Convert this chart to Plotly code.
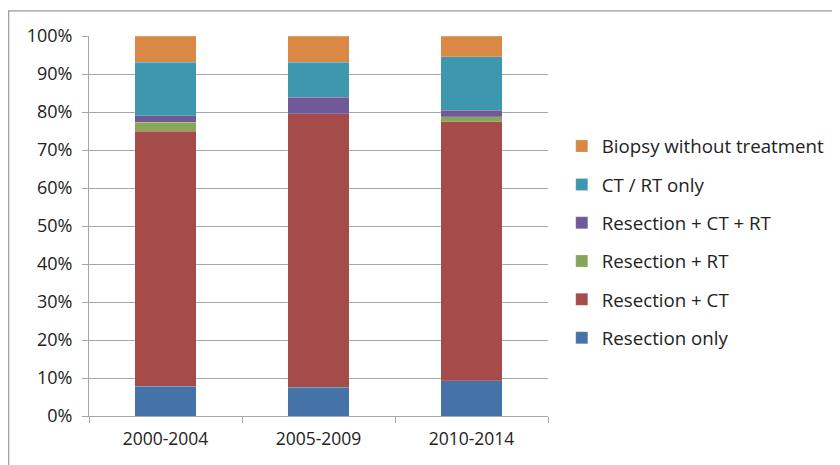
import plotly.graph_objects as go

periods = ["2000-2004", "2005-2009", "2010-2014"]

resection_only = [7.8, 7.6, 9.3]
resection_ct = [67.2, 71.9, 68.1]
resection_rt = [2.3, 0.0, 1.4]
resection_ct_rt = [1.7, 4.4, 1.6]
ct_rt_only = [14.1, 9.2, 14.2]
biopsy_only = [6.9, 6.9, 5.4]

series = [
    ("Resection only", resection_only, "#4573A7"),
    ("Resection + CT", resection_ct, "#A54B4A"),
    ("Resection + RT", resection_rt, "#88A65A"),
    ("Resection + CT + RT", resection_ct_rt, "#6F5997"),
    ("CT / RT only", ct_rt_only, "#3D97AF"),
    ("Biopsy without treatment", biopsy_only, "#DA8845"),
]

FONT = "Open Sans"

fig = go.Figure()
for i, (label, vals, color) in enumerate(series):
    fig.add_trace(go.Bar(
        x=periods, y=[v / 100 for v in vals],
        name=label, legendgroup=str(i), legendrank=100 - i,
        marker=dict(color=color, line=dict(color="rgba(255,255,255,0.35)", width=0.5)),
    ))

# outer chart border (left + top visible in the reference)
fig.add_shape(type="rect", xref="paper", yref="paper",
              x0=-0.175, x1=1.7, y0=-0.3, y1=1.066,
              line=dict(color="#9a9a9a", width=1.2), layer="below")

fig.update_layout(
    barmode="stack",
    bargap=0.6,
    width=840, height=465,
    paper_bgcolor="white", plot_bgcolor="white",
    margin=dict(l=81, r=300, t=28, b=57, autoexpand=False),
    font=dict(family=FONT, size=17, color="#222222"),
    showlegend=True,
    legend=dict(
        traceorder="grouped",
        tracegroupgap=11,
        x=1.03, y=0.458, xanchor="left", yanchor="middle",
        font=dict(family=FONT, size=18.7, color="#222222"),
        itemwidth=30,
    ),
)
fig.update_yaxes(
    range=[0, 1], tickformat=".0%", dtick=0.1, automargin=False,
    tickfont=dict(size=18), ticklabelstandoff=6,
    showgrid=True, gridcolor="#a6a6a6", gridwidth=1,
    showline=True, linecolor="#a6a6a6", linewidth=1,
    ticks="outside", ticklen=6, tickcolor="#a6a6a6",
    zeroline=False,
)
fig.update_xaxes(
    automargin=False,
    tickfont=dict(size=17.5), ticklabelstandoff=7,
    showline=True, linecolor="#a6a6a6", linewidth=1,
    ticks="outside", tickson="boundaries", ticklen=6, tickcolor="#a6a6a6",
    showgrid=False,
)

fig.write_html("out.html")
